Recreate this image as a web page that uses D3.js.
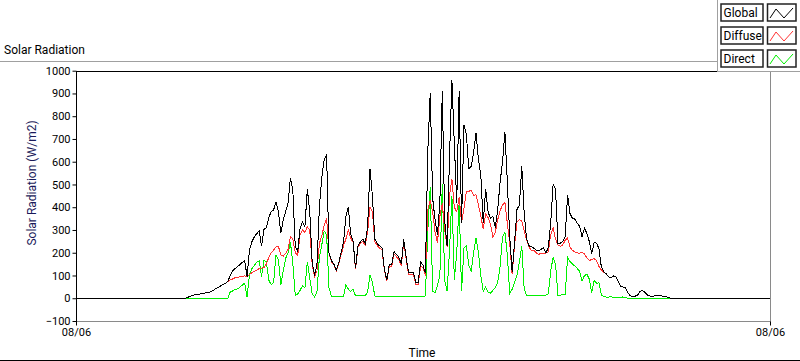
<!DOCTYPE html>
<html><head><meta charset="utf-8">
<script src="https://cdn.jsdelivr.net/npm/d3@7"></script>
<style>
html,body{margin:0;padding:0;background:#fff;}
svg{display:block;font-family:Roboto,"Liberation Sans",sans-serif;}
</style></head><body>
<svg id="chart" width="800" height="361"></svg>
<script>
// ---- data ----
const seriesNames = ["Global", "Diffuse", "Direct"];
const startMinute = 225;   // first sample (minutes after midnight)
const stepMinutes = 5;     // sampling interval
const globalValues = [
  0,2,7,11,14,16,18,20,22,24,26,29,
  35,42,48,54,60,66,73,100,120,130,139,148,
  158,165,95,212,248,270,284,295,230,302,310,355,
  380,388,424,380,285,345,380,420,530,470,226,205,
  310,334,316,480,380,160,100,150,400,530,610,630,
  200,165,150,122,153,200,245,360,400,280,250,131,
  230,248,260,240,310,570,450,260,240,230,220,125,
  80,148,148,205,192,180,150,258,180,112,115,115,
  70,70,160,145,110,650,900,440,345,280,420,910,
  340,230,620,960,680,420,910,330,760,720,570,580,
  640,725,610,540,330,480,380,350,360,310,390,510,
  600,730,510,270,115,245,390,410,580,370,260,230,
  228,220,210,208,215,222,200,222,330,500,480,242,
  242,250,270,455,373,352,348,330,316,270,308,285,
  250,195,245,242,218,138,116,108,94,91,98,95,
  75,53,50,45,25,10,9,9,13,30,33,27,
  15,10,9,10,11,11,10,9,6,3,0
];
const diffuseValues = [
  0,2,7,11,14,16,18,20,22,24,26,29,
  35,42,48,54,60,66,73,80,85,90,92,94,
  96,98,95,105,112,118,124,130,132,135,150,180,
  200,211,226,228,190,185,197,215,270,260,200,189,
  280,300,290,314,300,150,95,120,240,275,320,350,
  200,160,150,120,150,190,230,260,300,265,245,128,
  225,240,250,232,290,400,380,250,232,220,212,120,
  75,140,140,195,182,170,142,245,172,105,105,105,
  62,60,140,135,100,390,432,380,290,245,360,417,
  300,225,450,525,400,380,446,330,395,470,470,475,
  452,455,410,360,305,370,355,325,270,290,345,385,
  410,420,330,240,105,235,335,345,340,295,255,226,
  208,210,200,192,198,195,198,205,280,310,260,235,
  228,235,255,265,225,211,204,200,197,203,195,178,
  166,170,174,166,140,124,115,107,94,90,97,94,
  75,53,50,45,25,10,9,9,13,30,33,27,
  15,10,9,10,11,11,10,9,6,3,0
];
const directValues = [
  0,0,0,0,0,0,0,0,0,0,0,0,
  0,0,0,0,0,0,0,28,32,38,42,48,
  58,66,5,105,130,145,158,165,95,167,160,80,
  60,70,190,170,60,120,175,200,245,150,13,18,
  35,55,45,160,90,20,6,28,180,235,295,280,
  45,9,8,8,8,8,8,60,40,30,40,10,
  10,10,10,12,25,100,70,10,9,8,9,8,
  8,9,8,8,9,8,7,8,8,9,8,7,
  8,8,9,8,10,300,490,30,25,55,100,500,
  80,30,210,450,80,200,420,30,220,230,145,120,
  200,265,200,100,30,50,28,22,35,45,70,140,
  270,290,190,20,40,70,100,160,230,40,13,14,
  13,12,13,14,13,12,13,20,120,180,150,13,
  14,15,15,180,162,150,142,131,118,75,100,105,
  85,25,78,66,68,15,7,5,4,8,3,3,
  3,3,6,2,0,0,0,0,0,0,0,0,
  0,0,0,0,0,0,0,0,0,0,0
];
const yTickValues = [-100,0,100,200,300,400,500,600,700,800,900,1000];
const xDomainMinutes = [0, 1440];
const xTickMinutes = [0, 1440];
const xTickLabels = ["08/06", "08/06"];

// ---- styles ----
const colors = {Global: "#000000", Diffuse: "#ff3333", Direct: "#00f000"};

const svg = d3.select("#chart");
const plot = {left: 76, right: 770, top: 70.7, bottom: 321};

const x = d3.scaleLinear().domain(xDomainMinutes).range([plot.left, plot.right]);
const y = d3.scaleLinear().domain([-100, 1000]).range([plot.bottom, plot.top]);

// title and panel line
svg.append("text").attr("x", 4).attr("y", 54).attr("font-size", 12).attr("fill", "#000").text("Solar Radiation");
svg.append("line").attr("x1", 0).attr("x2", 718).attr("y1", 61.5).attr("y2", 61.5).attr("stroke", "#a0a0a0");

// plot background + frame
svg.append("rect").attr("x", plot.left).attr("y", plot.top).attr("width", plot.right - plot.left).attr("height", plot.bottom - plot.top).attr("fill", "#fff");

// series
function pts(vals) {
  const p = [{t: xDomainMinutes[0], v: 0}];
  vals.forEach((v, i) => p.push({t: startMinute + i * stepMinutes, v}));
  p.push({t: xDomainMinutes[1], v: 0});
  return p;
}
const seriesData = {Global: globalValues, Diffuse: diffuseValues, Direct: directValues};
const line = d3.line().x(d => x(d.t)).y(d => y(d.v));
["Direct", "Diffuse", "Global"].forEach(name => {
  svg.append("path").datum(pts(seriesData[name]))
    .attr("d", line).attr("fill", "none").attr("stroke", colors[name])
    .attr("stroke-width", 1).attr("shape-rendering", "crispEdges");
});

// frame
svg.append("line").attr("x1", plot.left).attr("x2", plot.right).attr("y1", Math.round(plot.top)+0.5).attr("y2", Math.round(plot.top)+0.5).attr("stroke", "#000");
svg.append("line").attr("x1", plot.left).attr("x2", plot.right).attr("y1", plot.bottom+0.5).attr("y2", plot.bottom+0.5).attr("stroke", "#8a8a8a");
svg.append("line").attr("x1", plot.right+0.5).attr("x2", plot.right+0.5).attr("y1", plot.top).attr("y2", plot.bottom+1).attr("stroke", "#8a8a8a");

// y axis
const yAxis = d3.axisLeft(y).tickValues(yTickValues).tickSize(4).tickPadding(2).tickFormat(d3.format("d"));
const gy = svg.append("g").attr("transform", `translate(${plot.left+0.5},0)`).call(yAxis);
gy.select(".domain").attr("stroke", "#000").attr("d", `M0,${Math.round(plot.top)}V${plot.bottom+1}`);
gy.selectAll(".tick line").attr("stroke", "#000");
gy.selectAll(".tick text").attr("font-size", 11).attr("fill", "#000").attr("font-family", "Roboto, sans-serif");

// x axis
const xAxis = d3.axisBottom(x).tickValues(xTickMinutes).tickSize(4).tickPadding(3).tickFormat((d, i) => xTickLabels[i]);
const gx = svg.append("g").attr("transform", `translate(0,${plot.bottom+0.5})`).call(xAxis);
gx.select(".domain").remove();
gx.selectAll(".tick line").attr("stroke", "#000");
gx.selectAll(".tick text").attr("font-size", 11).attr("fill", "#000").attr("font-family", "Roboto, sans-serif");

// axis titles
svg.append("text").attr("transform", "translate(36,183) rotate(-90)").attr("text-anchor", "middle")
  .attr("font-size", 12).attr("fill", "#1a1a5a").text("Solar Radiation (W/m2)");
svg.append("text").attr("x", 422).attr("y", 357).attr("text-anchor", "middle")
  .attr("font-size", 12).attr("fill", "#000").text("Time");

// bottom window border
svg.append("line").attr("x1", 0).attr("x2", 800).attr("y1", 360.5).attr("y2", 360.5).attr("stroke", "#000");

// legend
const lg = svg.append("g");
lg.append("rect").attr("x", 717.5).attr("y", -1).attr("width", 84).attr("height", 72.5).attr("fill", "#fff").attr("stroke", "#a0a0a0");
seriesNames.forEach((name, i) => {
  const y0 = 4 + i * 23;
  lg.append("rect").attr("x", 721).attr("y", y0).attr("width", 42).attr("height", 17)
    .attr("fill", "#fff").attr("stroke", "#222").attr("stroke-width", 1.5);
  lg.append("text").attr("x", 723.5).attr("y", y0 + 13).attr("font-size", 12).attr("fill", "#000").text(name);
  lg.append("rect").attr("x", 767.5).attr("y", y0).attr("width", 28.5).attr("height", 17)
    .attr("fill", "#fff").attr("stroke", "#222").attr("stroke-width", 1.5);
  lg.append("path").attr("d", `M770,${y0+14}L776,${y0+5}L784,${y0+14}L793,${y0+4}`)
    .attr("fill", "none").attr("stroke", colors[name]).attr("stroke-width", 1);
});
</script>
</body></html>
